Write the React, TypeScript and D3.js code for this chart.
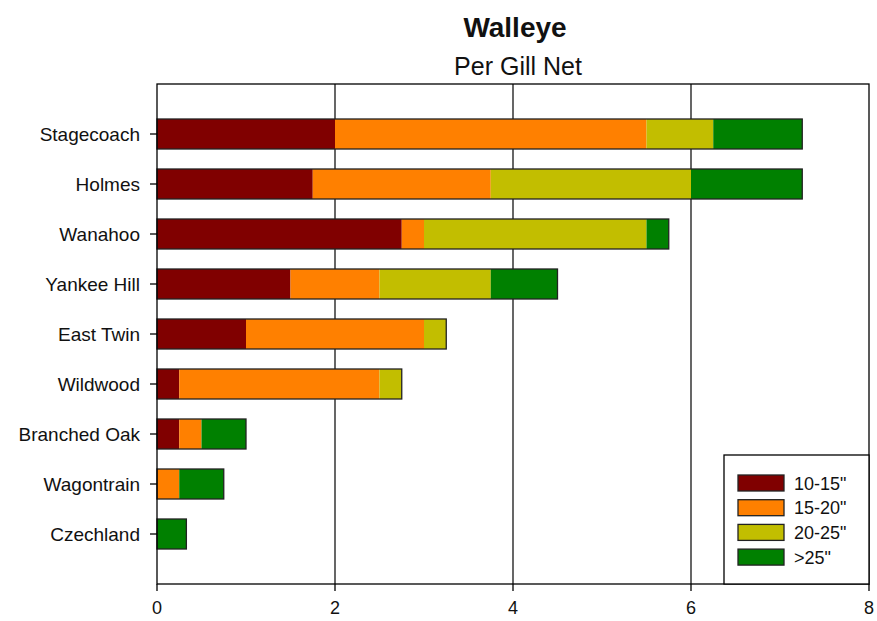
import React from "react";
import * as d3 from "d3";

const lakes = ["Stagecoach", "Holmes", "Wanahoo", "Yankee Hill", "East Twin", "Wildwood", "Branched Oak", "Wagontrain", "Czechland"];
const sizeClasses = ["10-15\"", "15-20\"", "20-25\"", ">25\""];
const colors = ["#800000", "#FF8000", "#C2BE00", "#008000"];
const s10_15 = [2.0, 1.75, 2.75, 1.5, 1.0, 0.25, 0.25, 0, 0];
const s15_20 = [3.5, 2.0, 0.25, 1.0, 2.0, 2.25, 0.25, 0.25, 0];
const s20_25 = [0.75, 2.25, 2.5, 1.25, 0.25, 0.25, 0, 0, 0];
const s25 = [1.0, 1.25, 0.25, 0.75, 0, 0, 0.5, 0.5, 0.33];
const xTicks = [0, 2, 4, 6, 8];

const W = 877, H = 621;
const L = 157, R = 869, T = 84, B = 584;
const FONT = "Arial, 'Liberation Sans', sans-serif";

export default function App() {
  const x = d3.scaleLinear().domain([0, 8]).range([L, R]);
  const y = d3.scalePoint<string>().domain(lakes).range([T, B]).padding(1);
  const barH = 30;
  const rows = lakes.map((name, i) => ({ name, vals: [s10_15[i], s15_20[i], s20_25[i], s25[i]] }));
  const stack = d3.stack<any>().keys(["0", "1", "2", "3"])(rows.map(r => ({ name: r.name, "0": r.vals[0], "1": r.vals[1], "2": r.vals[2], "3": r.vals[3] })));

  return (
    <svg width={W} height={H} style={{ position: "absolute", left: 0, top: 0, background: "#fff" }} fontFamily={FONT}>
      <rect x={0} y={0} width={W} height={H} fill="#fff" />
      <text x={515} y={37} textAnchor="middle" fontSize={28} fontWeight="bold" fill="#111">Walleye</text>
      <text x={518} y={75} textAnchor="middle" fontSize={25} fill="#111">Per Gill Net</text>
      {xTicks.slice(1, -1).map(t => (
        <line key={t} x1={x(t)} x2={x(t)} y1={T} y2={B} stroke="#000" strokeWidth={1.2} />
      ))}
      {stack.map((layer, k) => (
        <g key={k} fill={colors[k]}>
          {layer.map((d, i) => d[1] - d[0] > 0 ? (
            <rect key={i} x={x(d[0])} y={(y(lakes[i]) as number) - barH / 2} width={x(d[1]) - x(d[0])} height={barH} />
          ) : null)}
        </g>
      ))}
      {rows.map((r, i) => {
        const total = d3.sum(r.vals);
        return <rect key={i} x={x(0)} y={(y(r.name) as number) - barH / 2} width={x(total) - x(0)} height={barH} fill="none" stroke="#222" strokeWidth={1.3} />;
      })}
      <rect x={L} y={T} width={R - L} height={B - T} fill="none" stroke="#000" strokeWidth={1.3} />
      {xTicks.map(t => (
        <g key={t}>
          <line x1={x(t)} x2={x(t)} y1={B} y2={B + 7} stroke="#000" strokeWidth={1.3} />
          <text x={x(t)} y={614} textAnchor="middle" fontSize={18} fill="#111">{t}</text>
        </g>
      ))}
      {lakes.map(n => (
        <g key={n}>
          <line x1={L - 7} x2={L} y1={y(n)} y2={y(n)} stroke="#000" strokeWidth={1.3} />
          <text x={L - 17} y={(y(n) as number) + 6.5} textAnchor="end" fontSize={19} fill="#111">{n}</text>
        </g>
      ))}
      <rect x={724} y={455} width={R - 724} height={B - 455} fill="#fff" stroke="#000" strokeWidth={1.3} />
      {sizeClasses.map((c, k) => (
        <g key={c}>
          <rect x={738} y={475 + k * 24.7} width={46} height={16} fill={colors[k]} stroke="#222" strokeWidth={1.3} />
          <text x={794} y={475 + k * 24.7 + 14.5} fontSize={18} fill="#111">{c}</text>
        </g>
      ))}
    </svg>
  );
}
